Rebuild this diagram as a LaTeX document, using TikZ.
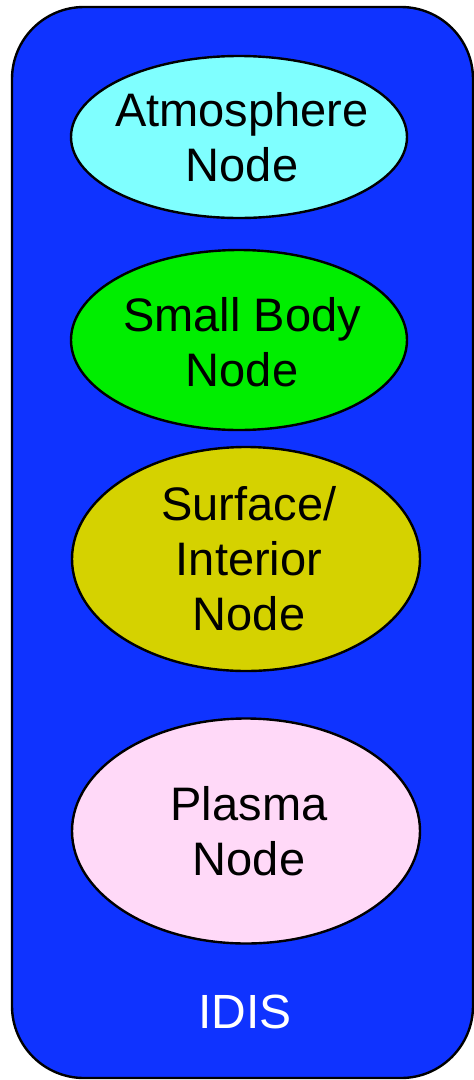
\documentclass[tikz,border=0pt]{standalone}
\usepackage{fontspec}
\setmainfont{Liberation Sans}
\usetikzlibrary{shapes.geometric}
\definecolor{idisblue}{HTML}{0F33FF}
\definecolor{atmcyan}{HTML}{7FFFFF}
\definecolor{sbngreen}{HTML}{00EE00}
\definecolor{geoolive}{HTML}{D5D200}
\definecolor{ppipink}{HTML}{FFD9F8}
\begin{document}
\begin{tikzpicture}[x=1pt,y=-1pt,
  nodeellipse/.style={ellipse,draw=black,line width=2.4pt,inner sep=0pt},
  nodelabel/.style={align=center,font=\fontsize{47}{55}\selectfont,text=black,inner sep=0pt}]
\useasboundingbox (0,0) rectangle (474,1080);
% IDIS container
\draw[fill=idisblue,draw=black,line width=2.4pt,rounded corners=72pt]
  (12,7) rectangle (473,1078);
% node ellipses
\node[nodeellipse,fill=atmcyan,minimum width=336pt,minimum height=162pt]
  (atm) at (239,137) {};
\node[nodeellipse,fill=sbngreen,minimum width=336pt,minimum height=180pt]
  (sbn) at (239,340) {};
\node[nodeellipse,fill=geoolive,minimum width=348pt,minimum height=224pt]
  (geo) at (246,559) {};
\node[nodeellipse,fill=ppipink,minimum width=348pt,minimum height=225pt]
  (ppi) at (246,831) {};
% labels
\node[nodelabel] (atmtext) at ([xshift=3pt]atm.center) {Atmosphere\\Node};
\node[nodelabel] (sbntext) at ([xshift=3pt,yshift=-2pt]sbn.center) {Small Body\\Node};
\node[nodelabel] (geotext) at ([xshift=3pt]geo.center) {Surface/\\Interior\\Node};
\node[nodelabel] (ppitext) at ([xshift=3pt]ppi.center) {Plasma\\Node};
\node[font=\fontsize{48}{56}\selectfont,text=white] (idis) at (245,1012) {IDIS};
\end{tikzpicture}
\end{document}
